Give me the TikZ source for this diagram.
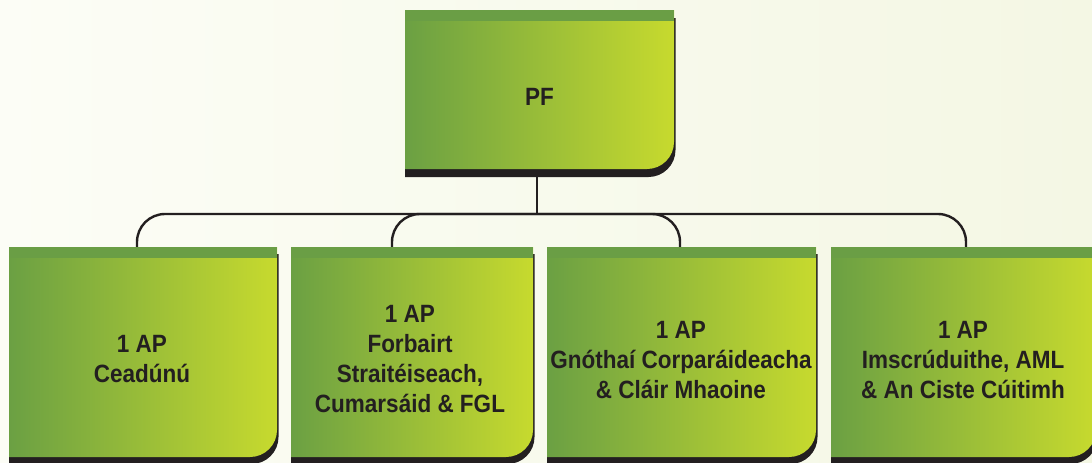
\documentclass[tikz,border=0pt]{standalone}
\usepackage{fontspec}
\setmainfont{Liberation Sans}[FakeStretch=0.9]
\usetikzlibrary{calc}
\definecolor{bgL}{HTML}{FCFDF6}
\definecolor{bgR}{HTML}{F4F7E4}
\definecolor{gL}{HTML}{6BA043}
\definecolor{gR}{HTML}{C7DA2E}
\definecolor{gS}{HTML}{6A9E45}
\definecolor{shadowc}{HTML}{231F20}
\newcommand\greenpanel[5]{%
 \fill[shadowc] ({#1},{#2+#5}) -- ({#3+1.5},{#2+#5}) -- ({#3+1.5},{#4+#5-27}) .. controls ({#3+1.5},{#4+#5-12.1}) and ({#3+1.5-12.1},{#4+#5}) .. ({#3+1.5-27},{#4+#5}) -- ({#1},{#4+#5}) -- cycle;
 \shade[left color=gL, right color=gR] ({#1},{#2}) -- ({#3},{#2}) -- ({#3},{#4-27}) .. controls ({#3},{#4-12.1}) and ({#3-12.1},{#4}) .. ({#3-27},{#4}) -- ({#1},{#4}) -- cycle;
 \fill[gS] ({#1},{#2}) rectangle ({#3},{#2+11});
}
\tikzset{
  lbl/.style={align=center, text=shadowc, font=\bfseries\fontsize{25}{30}\selectfont, inner sep=0pt},
  conn/.style={draw=shadowc, line width=2.4pt, rounded corners=28pt}
}
\begin{document}
\begin{tikzpicture}[x=1pt,y=-1pt]
\useasboundingbox (0,0) rectangle (1092,463);
\clip (0,0) rectangle (1092,463);
\shade[left color=bgL, right color=bgR] (0,0) rectangle (1092,463);

% connector coordinates
\coordinate (top) at (537,176);
\coordinate (hl) at (537,214);
\coordinate (j1) at (137,250);
\coordinate (j2) at (392,250);
\coordinate (j3) at (680,250);
\coordinate (j4) at (966,250);

\draw[conn] (j1) -- (j1 |- hl) -- (j3 |- hl) -- (j3);
\draw[conn] (j2) -- (j2 |- hl) -- (j4 |- hl) -- (j4);
\draw[draw=shadowc, line width=2.4pt] (top) -- (hl);

% boxes
\greenpanel{405}{10}{674}{169}{8}
\greenpanel{9}{247}{277}{457}{7}
\greenpanel{291}{247}{533}{457}{7}
\greenpanel{547}{247}{816}{457}{7}
\greenpanel{831}{247}{1096}{457}{7}

% labels
\node[lbl] (pf) at (539.5,97) {PF};
\node[lbl] (b1) at (142,359) {1 AP\\Ceadúnú};
\node[lbl] (b2) at (410,359) {1 AP\\Forbairt\\Straitéiseach,\\Cumarsáid \& FGL};
\node[lbl] (b3) at (681,360) {1 AP\\Gnóthaí Corparáideacha\\\& Cláir Mhaoine};
\node[lbl] (b4) at (963,360) {1 AP\\Imscrúduithe, AML\\\& An Ciste Cúitimh};
\end{tikzpicture}
\end{document}
